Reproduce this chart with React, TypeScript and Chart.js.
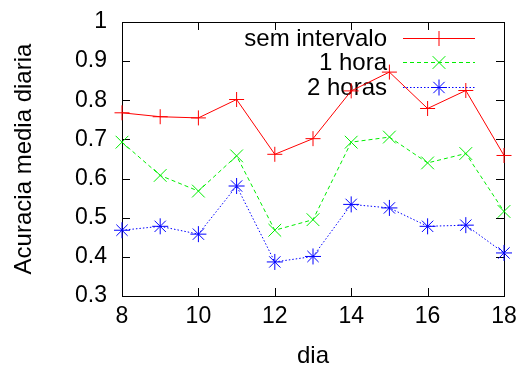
import React, { useEffect, useRef } from "react";
import { Chart, registerables } from "chart.js";

Chart.register(...registerables);

const days = [8, 9, 10, 11, 12, 13, 14, 15, 16, 17, 18];
const semIntervalo = [0.768, 0.758, 0.755, 0.802, 0.662, 0.702, 0.824, 0.872, 0.779, 0.825, 0.659];
const umaHora = [0.693, 0.608, 0.568, 0.658, 0.468, 0.495, 0.693, 0.706, 0.64, 0.664, 0.516];
const duasHoras = [0.468, 0.478, 0.458, 0.581, 0.387, 0.401, 0.534, 0.525, 0.478, 0.481, 0.41];
const seriesLabels = ["sem intervalo", "1 hora", "2 horas"];
const xTitle = "dia";
const yTitle = "Acuracia media diaria";

const FONT = "'Liberation Sans', Arial, Helvetica, sans-serif";

function drawMarker(ctx: CanvasRenderingContext2D, style: string, x: number, y: number, r: number, color: string) {
  ctx.save();
  ctx.strokeStyle = color;
  ctx.lineWidth = 1;
  ctx.setLineDash([]);
  ctx.beginPath();
  const d = r * Math.SQRT1_2;
  if (style === "cross" || style === "star") {
    ctx.moveTo(x - r, y);
    ctx.lineTo(x + r, y);
    ctx.moveTo(x, y - r);
    ctx.lineTo(x, y + r);
  }
  if (style === "crossRot" || style === "star") {
    ctx.moveTo(x - d, y - d);
    ctx.lineTo(x + d, y + d);
    ctx.moveTo(x - d, y + d);
    ctx.lineTo(x + d, y - d);
  }
  ctx.stroke();
  ctx.restore();
}

const frameAndLegend = {
  id: "frameAndLegend",
  beforeDatasetsDraw(chart: any) {
    const { ctx, chartArea } = chart;
    const { left, right, top, bottom } = chartArea;
    const xs = chart.scales.x;
    const ys = chart.scales.y;
    ctx.save();
    ctx.strokeStyle = "#000";
    ctx.lineWidth = 1;
    ctx.setLineDash([]);
    const L = 8;
    ctx.beginPath();
    ys.ticks.forEach((t: any) => {
      const y = Math.round(ys.getPixelForValue(t.value)) + 0.5;
      ctx.moveTo(left, y);
      ctx.lineTo(left + L, y);
      ctx.moveTo(right, y);
      ctx.lineTo(right - L, y);
    });
    xs.ticks.forEach((t: any) => {
      const x = Math.round(xs.getPixelForValue(t.value)) + 0.5;
      ctx.moveTo(x, bottom);
      ctx.lineTo(x, bottom - L);
      ctx.moveTo(x, top);
      ctx.lineTo(x, top + L);
    });
    ctx.stroke();
    ctx.strokeRect(Math.round(left) + 0.5, Math.round(top) + 0.5, Math.round(right - left), Math.round(bottom - top));

    // legend
    const textRight = right - 117;
    const lineStart = right - 101;
    const lineEnd = right - 29;
    const firstY = top + 16;
    const step = 24.3;
    ctx.font = "24px " + FONT;
    ctx.textAlign = "right";
    ctx.textBaseline = "middle";
    chart.data.datasets.forEach((ds: any, i: number) => {
      const y = Math.round(firstY + i * step) + 0.5;
      ctx.fillStyle = "#000";
      ctx.fillText(ds.label, textRight, y + 1);
      ctx.strokeStyle = ds.borderColor;
      ctx.lineWidth = 1;
      ctx.setLineDash(ds.borderDash || []);
      ctx.beginPath();
      ctx.moveTo(lineStart, y);
      ctx.lineTo(lineEnd, y);
      ctx.stroke();
      ctx.setLineDash([]);
      drawMarker(ctx, ds.pointStyle, (lineStart + lineEnd) / 2, y, ds.pointRadius, ds.borderColor);
    });
    ctx.restore();
  },
};

export default function App() {
  const ref = useRef<HTMLCanvasElement>(null);
  useEffect(() => {
    if (!ref.current) return;
    const mk = (vals: number[]) => vals.map((v, i) => ({ x: days[i], y: v }));
    const chart = new Chart(ref.current, {
      type: "line",
      data: {
        datasets: [
          {
            label: seriesLabels[0],
            data: mk(semIntervalo),
            borderColor: "#ff0000",
            backgroundColor: "#ff0000",
            borderWidth: 1,
            pointStyle: "cross",
            pointRadius: 7.5,
            pointBorderWidth: 1,
            pointHoverRadius: 7.5,
            fill: false,
            tension: 0,
          },
          {
            label: seriesLabels[1],
            data: mk(umaHora),
            borderColor: "#00ee00",
            backgroundColor: "#00ee00",
            borderWidth: 1,
            borderDash: [4, 3],
            pointStyle: "crossRot",
            pointRadius: 9,
            pointBorderWidth: 1,
            pointHoverRadius: 9,
            fill: false,
            tension: 0,
          },
          {
            label: seriesLabels[2],
            data: mk(duasHoras),
            borderColor: "#0000ff",
            backgroundColor: "#0000ff",
            borderWidth: 1,
            borderDash: [1.5, 2],
            pointStyle: "star",
            pointRadius: 8,
            pointBorderWidth: 1,
            pointHoverRadius: 8,
            fill: false,
            tension: 0,
          },
        ],
      },
      options: {
        responsive: false,
        animation: false,
        layout: { padding: { top: 0, right: 0, left: 0, bottom: 0 } },
        plugins: { legend: { display: false }, tooltip: { enabled: false } },
        datasets: { line: { clip: false } as any },
        scales: {
          x: {
            type: "linear",
            min: 8,
            max: 18,
            ticks: { stepSize: 2, color: "#000", font: { family: FONT, size: 23 }, padding: 7, maxRotation: 0 },
            grid: { display: false, drawTicks: false },
            border: { display: false },
            title: {
              display: true,
              text: xTitle,
              color: "#000",
              font: { family: FONT, size: 24, lineHeight: 0.75 },
              padding: { top: 0, bottom: 0 },
            },
            afterFit: (s: any) => {
              s.height = 69;
              s.paddingLeft = 0;
              s.paddingRight = 17;
            },
          },
          y: {
            min: 0.3,
            max: 1,
            ticks: {
              stepSize: 0.1,
              color: "#000",
              font: { family: FONT, size: 23 },
              padding: 15,
              callback: (v: any) => String(Number(Number(v).toFixed(1))),
            },
            grid: { display: false, drawTicks: false },
            border: { display: false },
            title: {
              display: true,
              text: yTitle,
              color: "#000",
              font: { family: FONT, size: 24, lineHeight: 0.75 },
              padding: { top: 15, bottom: 0 },
            },
            afterFit: (s: any) => {
              s.width = 122;
              s.paddingTop = 22;
              s.paddingBottom = 0;
            },
          },
        },
      },
      plugins: [frameAndLegend],
    });
    return () => chart.destroy();
  }, []);
  return (
    <div style={{ position: "absolute", left: 0, top: 0, width: 521, height: 365, background: "#fff" }}>
      <canvas ref={ref} width={521} height={365} />
    </div>
  );
}
